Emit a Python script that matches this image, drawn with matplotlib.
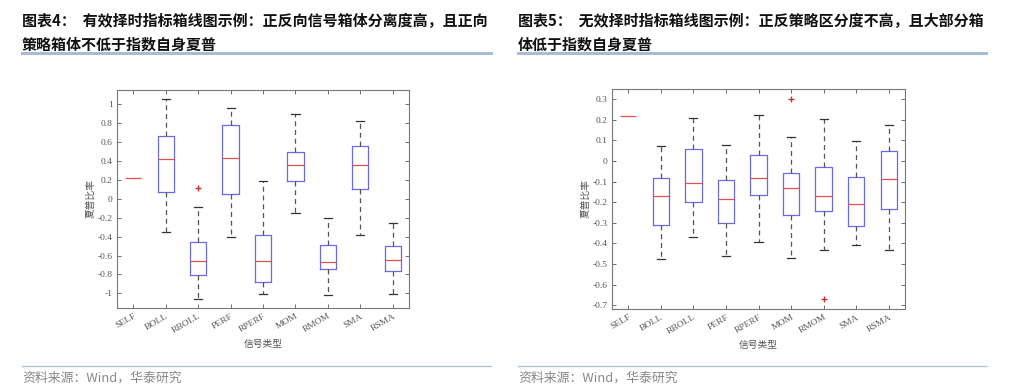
import matplotlib
matplotlib.use("Agg")
import matplotlib.pyplot as plt
from matplotlib.lines import Line2D

plt.rcParams['font.family'] = ['Noto Sans CJK SC', 'DejaVu Sans']

# 信号类型
signals = ['SELF', 'BOLL', 'RBOLL', 'PERF', 'RPERF', 'MOM', 'RMOM', 'SMA', 'RSMA']

# 图表4: 有效择时指标 (whislo, q1, med, q3, whishi)
eff_whislo = [0.22, -0.35, -1.056, -0.405, -1.004, -0.155, -1.014, -0.384, -1.004]
eff_q1 = [0.22, 0.067, -0.81, 0.053, -0.88, 0.19, -0.746, 0.106, -0.764]
eff_med = [0.22, 0.42, -0.66, 0.433, -0.662, 0.359, -0.673, 0.352, -0.651]
eff_q3 = [0.22, 0.66, -0.46, 0.775, -0.387, 0.496, -0.493, 0.556, -0.504]
eff_whishi = [0.22, 1.05, -0.09, 0.96, 0.183, 0.898, -0.20, 0.824, -0.26]
eff_fliers = [[], [], [0.116], [], [], [], [], [], []]

# 图表5: 无效择时指标
ineff_whislo = [0.219, -0.475, -0.367, -0.459, -0.394, -0.47, -0.43, -0.41, -0.43]
ineff_q1 = [0.219, -0.313, -0.20, -0.302, -0.166, -0.26, -0.245, -0.315, -0.231]
ineff_med = [0.219, -0.169, -0.108, -0.184, -0.085, -0.132, -0.171, -0.21, -0.088]
ineff_q3 = [0.219, -0.081, 0.057, -0.093, 0.031, -0.056, -0.027, -0.079, 0.046]
ineff_whishi = [0.219, 0.072, 0.208, 0.077, 0.224, 0.114, 0.203, 0.096, 0.174]
ineff_fliers = [[], [], [], [], [], [0.30], [-0.669], [], []]

titles = [
    '图表4：  有效择时指标箱线图示例：正反向信号箱体分离度高，且正向\n策略箱体不低于指数自身夏普',
    '图表5：  无效择时指标箱线图示例：正反策略区分度不高，且大部分箱\n体低于指数自身夏普',
]

W, H = 1024, 389
fig = plt.figure(figsize=(W / 100, H / 100), dpi=100)


def fx(px):
    return px / W


def fy(py):
    return 1 - py / H


def make_stats(lo, q1, med, q3, hi, fl):
    stats = []
    for i in range(len(signals)):
        stats.append({'whislo': lo[i], 'q1': q1[i], 'med': med[i], 'q3': q3[i],
                      'whishi': hi[i], 'fliers': fl[i], 'label': signals[i]})
    return stats


def draw_box(rect, stats, ylim, yticks, yfmt):
    ax = fig.add_axes(rect)
    parts = ax.bxp(stats, widths=0.5, showfliers=True,
                   boxprops=dict(color='#6a6ad8', linewidth=0.9),
                   medianprops=dict(color='#e05050', linewidth=0.9),
                   whiskerprops=dict(color='#555555', linewidth=0.9, linestyle=(0, (4, 3))),
                   capprops=dict(color='#333333', linewidth=0.9),
                   flierprops=dict(marker='+', markeredgecolor='#d03030', markersize=5,
                                   linestyle='none'))
    # SELF 只有一个值，只显示中位线
    parts['boxes'][0].set_visible(False)
    for a in parts['whiskers'][0:2] + parts['caps'][0:2]:
        a.set_visible(False)
    ax.set_xlim(0.5, 9.5)
    ax.set_ylim(*ylim)
    ax.set_yticks(yticks)
    ax.set_yticklabels([yfmt(v) for v in yticks], family=['Liberation Serif'], fontsize=6.8,
                       color='#444444')
    ax.set_xticks(range(1, 10))
    ax.set_xticklabels(signals, rotation=30, ha='right', rotation_mode='anchor',
                       family=['Liberation Serif'], fontsize=6.8, color='#444444')
    ax.tick_params(direction='in', length=3, width=0.6, top=True, right=True,
                   colors='#555555', pad=3)
    for s in ax.spines.values():
        s.set_color('#777777')
        s.set_linewidth(0.8)
    ax.set_xlabel('信号类型', fontsize=7, color='#555555', labelpad=3)
    ax.set_ylabel('夏普比率', fontsize=7, color='#555555', labelpad=2)
    return ax


def fmt_tick(v):
    v = round(v, 1)
    if v == 0:
        return '0'
    if abs(v - round(v)) < 1e-9:
        return '%d' % round(v)
    return '%g' % v


left_stats = make_stats(eff_whislo, eff_q1, eff_med, eff_q3, eff_whishi, eff_fliers)
right_stats = make_stats(ineff_whislo, ineff_q1, ineff_med, ineff_q3, ineff_whishi, ineff_fliers)

draw_box([fx(117), fy(308), fx(409 - 117), (308 - 90) / H], left_stats,
         (-1.155, 1.15), [-1, -0.8, -0.6, -0.4, -0.2, 0, 0.2, 0.4, 0.6, 0.8, 1], fmt_tick)
draw_box([fx(612), fy(309), fx(905 - 612), (309 - 89) / H], right_stats,
         (-0.718, 0.349), [-0.7, -0.6, -0.5, -0.4, -0.3, -0.2, -0.1, 0, 0.1, 0.2, 0.3], fmt_tick)

# 标题、分隔线与资料来源
for x0, x1, title in [(22, 491, titles[0]), (518, 986, titles[1])]:
    fig.text(fx(x0), fy(13), title, fontsize=10.8, fontweight='bold', va='top', ha='left',
             linespacing=1.55, color='#111111')
    fig.add_artist(Line2D([fx(x0), fx(x1)], [fy(53), fy(53)], color='#a9bbd0', linewidth=2.2))
    fig.add_artist(Line2D([fx(x0), fx(x1)], [fy(366), fy(366)], color='#b3c2d4', linewidth=1.0))
    fig.text(fx(x0), fy(378), '资料来源：Wind，华泰研究', fontsize=9.3, va='center', ha='left',
             color='#888888')

fig.savefig('out.png', dpi=100)
